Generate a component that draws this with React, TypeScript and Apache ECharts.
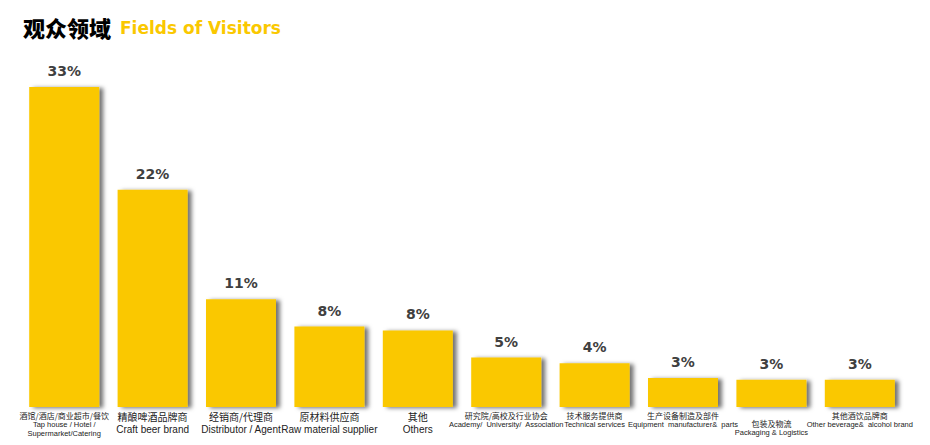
import React, { useEffect, useRef } from "react";
import * as echarts from "echarts";

const cnNames = [
  "酒馆/酒店/商业超市/餐饮",
  "精酿啤酒品牌商",
  "经销商/代理商",
  "原材料供应商",
  "其他",
  "研究院/高校及行业协会",
  "技术服务提供商",
  "生产设备制造及部件",
  "包装及物流",
  "其他酒饮品牌商",
];
const enNames = [
  "Tap house / Hotel /\nSupermarket/Catering",
  "Craft beer brand",
  "Distributor / Agent",
  "Raw material supplier",
  "Others",
  "Academy/  University/  Association",
  "Technical services",
  "Equipment  manufacturer&  parts",
  "Packaging & Logistics",
  "Other beverage&  alcohol brand",
];
const values = [33, 22.4, 11.1, 8.3, 7.9, 5.1, 4.5, 3.0, 2.8, 2.8];
const valueLabels = ["33%", "22%", "11%", "8%", "8%", "5%", "4%", "3%", "3%", "3%"];

const YELLOW = "#FAC800";

export default function App() {
  const ref = useRef<HTMLDivElement>(null);
  useEffect(() => {
    if (!ref.current) return;
    const chart = echarts.init(ref.current, null, { renderer: "svg" });
    const largeIdx = new Set([1, 2, 3, 4]);
    chart.setOption({
      animation: false,
      title: {
        text: "{a|观众领域} {b|Fields of Visitors}",
        left: 18,
        top: 11,
        textStyle: {
          rich: {
            a: {
              fontFamily: "Noto Sans CJK SC",
              fontWeight: 900,
              fontSize: 22,
              color: "#000",
            },
            b: {
              fontFamily: "DejaVu Sans",
              fontWeight: "bold",
              fontSize: 17,
              color: YELLOW,
              padding: [2, 0, 0, 4],
            },
          },
        },
      },
      grid: { left: 20, right: 26, top: 87, bottom: 38, containLabel: false },
      xAxis: {
        type: "category",
        data: cnNames.map((c, i) => i),
        axisLine: { show: false },
        axisTick: { show: false },
        axisLabel: {
          interval: 0,
          margin: 3,
          hideOverlap: false,
          overflow: "none",
          formatter: (v: string) => {
            const i = Number(v);
            const big = largeIdx.has(i);
            const cs = big ? "cl" : "cs";
            const es = big ? "el" : "es";
            const en = enNames[i]
              .split("\n")
              .map((l) => `{${es}|${l}}`)
              .join("\n");
            const pre = i === 8 ? "{sp| }\n" : "";
            return `${pre}{${cs}|${cnNames[i]}}\n${en}`;
          },
          rich: {
            sp: { fontSize: 6, lineHeight: 8 },
            cs: {
              fontFamily: "Noto Sans CJK SC",
              fontSize: 8,
              lineHeight: 10,
              color: "#222",
            },
            es: {
              fontFamily: "Liberation Sans",
              fontSize: 7.5,
              lineHeight: 9,
              color: "#222",
            },
            cl: {
              fontFamily: "Noto Sans CJK SC",
              fontSize: 10,
              lineHeight: 13,
              color: "#222",
            },
            el: {
              fontFamily: "Liberation Sans",
              fontSize: 10,
              lineHeight: 13,
              color: "#222",
            },
          },
        },
      },
      yAxis: {
        type: "value",
        min: 0,
        max: 33,
        show: false,
        splitLine: { show: false },
      },
      series: [
        {
          type: "bar",
          data: values,
          barWidth: 70,
          itemStyle: {
            color: YELLOW,
            shadowColor: "rgba(0,0,0,0.55)",
            shadowBlur: 4,
            shadowOffsetX: 4,
            shadowOffsetY: 1,
          },
          label: {
            show: true,
            position: "top",
            distance: 9,
            formatter: (p: any) => valueLabels[p.dataIndex],
            fontFamily: "DejaVu Sans",
            fontWeight: "bold",
            fontSize: 14,
            color: "#404040",
          },
        },
      ],
    });
    return () => chart.dispose();
  }, []);
  return (
    <div
      ref={ref}
      style={{ position: "fixed", left: 0, top: 0, width: 930, height: 445, background: "#fff" }}
    />
  );
}
